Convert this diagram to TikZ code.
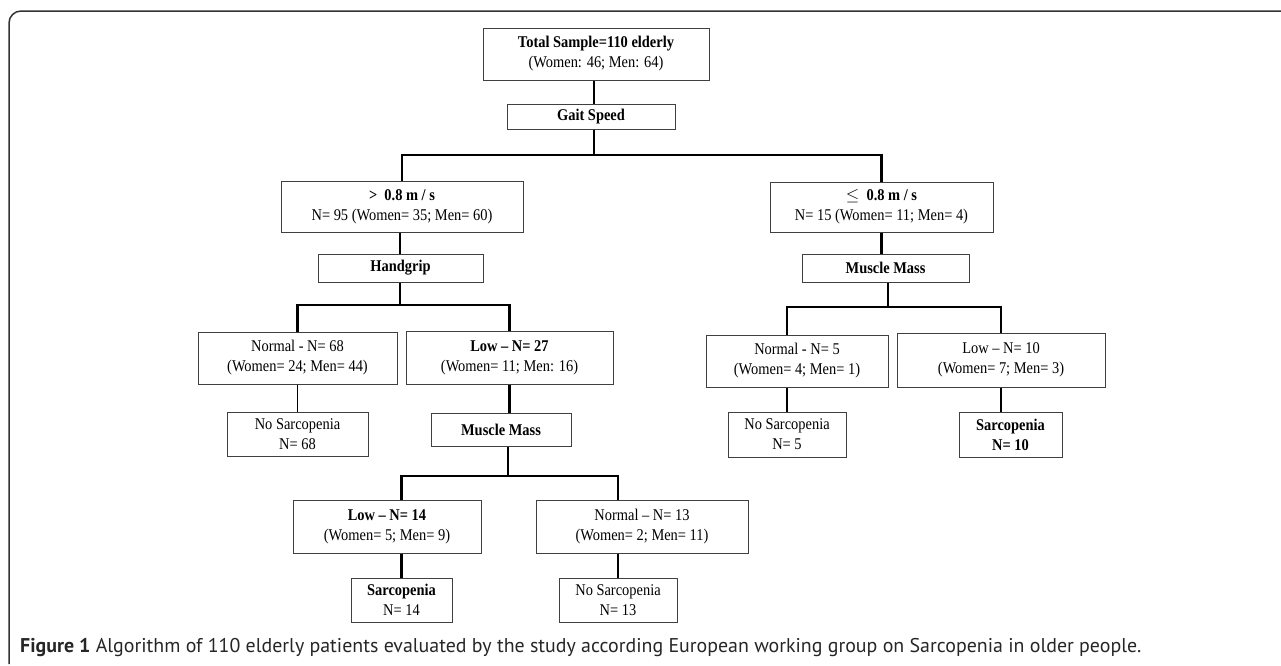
\documentclass[tikz,border=0pt]{standalone}
\usepackage{fontspec}
\setmainfont{Liberation Serif}[FakeStretch=0.88]
\newfontfamily\capfont{PT Sans}
\usetikzlibrary{calc}

\tikzset{
  box/.style={draw=black!75, line width=1pt, fill=white, align=center, inner sep=0pt,
    font=\fontsize{16.4}{20}\selectfont},
  link/.style={line width=2.4pt, black},
  leaf/.style={line width=1.6pt, black}
}

\begin{document}
\begin{tikzpicture}[x=1pt,y=-1pt]
  \useasboundingbox (0,0) rectangle (1281,665);
  % frame
  \draw[black!80, line width=1.5pt, rounded corners=12pt] (1281,11) -- (9,11) -- (9,664);

  % top
  \node[box, minimum width=226pt, minimum height=52pt] (total) at (596,54)
    {\textbf{Total Sample=110 elderly}\\(Women: 46; Men: 64)};
  \node[box, minimum width=168pt, minimum height=25pt] (gait) at (591,116.5) {\textbf{Gait Speed}};

  % gait speed split
  \node[box, minimum width=242pt, minimum height=51pt] (fast) at (402,206.5)
    {\textbf{> \ 0.8 m / s}\\N= 95 (Women= 35; Men= 60)};
  \node[box, minimum width=223pt, minimum height=50pt] (slow) at (881.5,207)
    {\textbf{\ensuremath{\leq}\ \ 0.8 m / s}\\N= 15 (Women= 11; Men= 4)};
  \node[box, minimum width=165pt, minimum height=28pt] (grip) at (400.5,268) {\textbf{Handgrip}};
  \node[box, minimum width=167pt, minimum height=28pt] (mmR) at (885.5,268) {\textbf{Muscle Mass}};

  % handgrip split
  \node[box, minimum width=199pt, minimum height=52pt] (normL) at (297.5,358)
    {Normal - N= 68\\(Women= 24; Men= 44)};
  \node[box, minimum width=207pt, minimum height=53pt] (lowL) at (509.5,357.5)
    {\textbf{Low -- N= 27}\\(Women= 11; Men: 16)};
  \node[box, minimum width=141pt, minimum height=44pt] (nosarcL) at (297.5,434)
    {No Sarcopenia\\N= 68};
  \node[box, minimum width=140pt, minimum height=33pt] (mmL) at (501,429.5) {\textbf{Muscle Mass}};

  % muscle mass split (right)
  \node[box, minimum width=182pt, minimum height=52pt] (normR) at (797,361)
    {Normal - N= 5\\(Women= 4; Men= 1)};
  \node[box, minimum width=208pt, minimum height=54pt] (lowR) at (1001,360)
    {Low -- N= 10\\(Women= 7; Men= 3)};
  \node[box, minimum width=118pt, minimum height=45pt] (nosarcR) at (787,434.5)
    {No Sarcopenia\\N= 5};
  \node[box, minimum width=103pt, minimum height=45pt] (sarcR) at (1010.5,434.5)
    {\textbf{Sarcopenia}\\\textbf{N= 10}};

  % muscle mass split (middle)
  \node[box, minimum width=188pt, minimum height=53pt] (lowM) at (387,526.5)
    {\textbf{Low -- N= 14}\\(Women= 5; Men= 9)};
  \node[box, minimum width=212pt, minimum height=53pt] (normM) at (642,526.5)
    {Normal -- N= 13\\(Women= 2; Men= 11)};
  \node[box, minimum width=101pt, minimum height=44pt] (sarcM) at (401.5,600)
    {\textbf{Sarcopenia}\\N= 14};
  \node[box, minimum width=118pt, minimum height=44pt] (nosarcM) at (618,600)
    {No Sarcopenia\\N= 13};

  % branch points
  \coordinate (j1) at (594,155);
  \coordinate (j2) at (400,305);
  \coordinate (j3) at (888,307);
  \coordinate (j4) at (508,476);

  \draw[link] (gait.north -| j1) -- (total.south -| j1);
  \draw[link] (gait.south -| j1) -- (j1);
  \draw[link] (fast.north) |- (j1) -| (slow.north);
  \draw[link] (fast.south -| j2) -- (grip.north -| j2);
  \draw[link] (slow.south) -- (slow.south |- mmR.north);

  \draw[link] (grip.south -| j2) -- (j2);
  \draw[link] (normL.north) |- (j2) -| (lowL.north);
  \draw[link] (mmR.south -| j3) -- (j3);
  \draw[link] (normR.north -| nosarcR.north) |- (j3) -| (lowR.north);
  \draw[link] (mmL.south -| j4) -- (j4);
  \draw[link] (lowM.north -| sarcM.north) |- (j4) -| (normM.north -| nosarcM.north);

  \draw[leaf] (normL.south) -- (nosarcL.north);
  \draw[link] (lowL.south) -- (lowL.south |- mmL.north);
  \draw[link] (nosarcR.north) -- (nosarcR.north |- normR.south);
  \draw[link] (lowR.south) -- (lowR.south |- sarcR.north);
  \draw[link] (sarcM.north) -- (sarcM.north |- lowM.south);
  \draw[link] (nosarcM.north) -- (nosarcM.north |- normM.south);

  % caption
  \node[anchor=base west, inner sep=0pt, text=black!85, font=\capfont\fontsize{19.9}{22}\selectfont] (caption) at (20,652)
    {\textbf{Figure 1} Algorithm of 110 elderly patients evaluated by the study according European working group on Sarcopenia in older people.};
\end{tikzpicture}
\end{document}
